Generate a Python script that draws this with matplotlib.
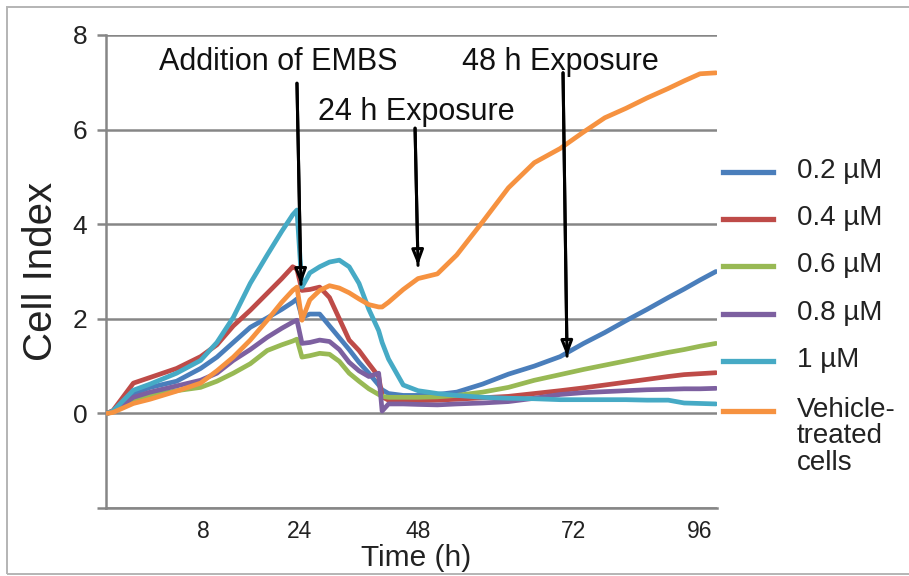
# Cell index curves (xCELLigence) for EMBS doses vs vehicle, 0-96 h
import numpy as np
import matplotlib
matplotlib.use('Agg')
import matplotlib.pyplot as plt
from matplotlib.lines import Line2D
from matplotlib.patches import Rectangle

plt.rcParams['font.family'] = ['Liberation Sans', 'DejaVu Sans']

# time points (h)
time_h = [0, 0.5, 2.2, 3.6, 5.8, 7.8, 10.3, 13, 15.8, 18.6, 21, 22.8, 23.5, 24.4,
          26, 28, 30, 32, 34, 36, 38, 40, 40.7, 42, 45, 48, 51, 54, 58, 62, 66,
          70, 74, 78, 82, 86, 90, 93, 96, 99]

ci_02 = [0, 0.05, 0.42, 0.55, 0.68, 0.95, 1.19, 1.5, 1.82, 2.02, 2.2, 2.35, 2.42, 2.03,
         2.1, 2.1, 1.85, 1.6, 1.35, 1.08, 0.85, 0.6, 0.5, 0.42, 0.38, 0.38, 0.4,
         0.45, 0.62, 0.83, 1.0, 1.2, 1.48, 1.71, 1.96, 2.2, 2.45, 2.63, 2.82, 3.0]
ci_04 = [0, 0.06, 0.64, 0.76, 0.95, 1.2, 1.45, 1.85, 2.18, 2.54, 2.85, 3.1, 3.05, 2.6,
         2.62, 2.67, 2.45, 2.0, 1.55, 1.33, 1.05, 0.78, 0.35, 0.28, 0.27, 0.27, 0.28,
         0.3, 0.33, 0.36, 0.42, 0.48, 0.54, 0.6, 0.66, 0.72, 0.78, 0.82, 0.84, 0.86]
ci_06 = [0, 0.03, 0.28, 0.38, 0.48, 0.55, 0.68, 0.85, 1.05, 1.33, 1.45, 1.53, 1.57, 1.19,
         1.22, 1.27, 1.25, 1.1, 0.85, 0.68, 0.52, 0.4, 0.36, 0.34, 0.34, 0.34, 0.35,
         0.38, 0.45, 0.55, 0.7, 0.82, 0.93, 1.02, 1.11, 1.2, 1.29, 1.35, 1.42, 1.48]
ci_08 = [0, 0.04, 0.34, 0.45, 0.58, 0.7, 0.85, 1.12, 1.35, 1.61, 1.8, 1.93, 1.97, 1.48,
         1.5, 1.55, 1.52, 1.35, 1.08, 0.9, 0.78, 0.85, 0.05, 0.2, 0.2, 0.19, 0.18,
         0.2, 0.22, 0.25, 0.32, 0.4, 0.44, 0.46, 0.48, 0.5, 0.51, 0.52, 0.52, 0.53]
ci_10 = [0, 0.05, 0.49, 0.62, 0.85, 1.12, 1.5, 2.03, 2.75, 3.35, 3.85, 4.2, 4.3, 2.67,
         2.97, 3.1, 3.2, 3.24, 3.1, 2.75, 2.2, 1.75, 1.5, 1.15, 0.6, 0.48, 0.42,
         0.38, 0.34, 0.32, 0.31, 0.29, 0.29, 0.29, 0.29, 0.28, 0.28, 0.22, 0.21, 0.2]
ci_veh = [0, 0.02, 0.21, 0.3, 0.47, 0.64, 0.9, 1.19, 1.55, 1.97, 2.35, 2.6, 2.67, 1.97,
          2.4, 2.6, 2.7, 2.65, 2.55, 2.42, 2.3, 2.25, 2.25, 2.35, 2.62, 2.85, 2.95,
          3.35, 4.05, 4.77, 5.3, 5.6, 5.95, 6.25, 6.45, 6.67, 6.87, 7.03, 7.18, 7.2]

labels = ['0.2 µM', '0.4 µM', '0.6 µM', '0.8 µM', '1 µM', 'Vehicle-\ntreated\ncells']
colors = ['#4A7EBB', '#BE4B48', '#98B954', '#7D60A0', '#46AAC5', '#F69240']
series = [ci_02, ci_04, ci_06, ci_08, ci_10, ci_veh]

x_ticks = [8, 24, 48, 72, 96]
y_ticks = [-2, 0, 2, 4, 6, 8]

# the instrument's time axis is not evenly spaced: piecewise-linear scale
anchor_h = [-100, 0, 8, 24, 48, 72, 96, 200]
anchor_p = [-1200, 0, 96, 193, 311, 466, 593, 593 + 104 * 127 / 24]


def fwd(h):
    return np.interp(h, anchor_h, anchor_p)


def inv(p):
    return np.interp(p, anchor_p, anchor_h)


W, H = 909, 576
fig = plt.figure(figsize=(W / 100, H / 100), dpi=100)
ax = fig.add_axes([106 / W, 1 - 508 / H, 611 / W, 473 / H])

grid_c = '#868686'
ax.set_xscale('function', functions=(fwd, inv))
ax.set_xlim(-0.08, 99.2)
ax.set_ylim(-2, 8)

for s, c in zip(series, colors):
    ax.plot(time_h, s, color=c, lw=3.4, solid_capstyle='round',
            solid_joinstyle='round', zorder=3)

ax.set_yticks(y_ticks)
ax.set_yticklabels(['' if v < 0 else str(v) for v in y_ticks])
ax.yaxis.grid(True, color=grid_c, lw=1.8)
ax.set_axisbelow(True)
ax.set_xticks(x_ticks)
ax.set_xticklabels([str(v) for v in x_ticks])
ax.xaxis.set_minor_locator(plt.NullLocator())

for side in ['top', 'right']:
    ax.spines[side].set_visible(False)
for side in ['left', 'bottom']:
    ax.spines[side].set_color(grid_c)
    ax.spines[side].set_linewidth(1.8)

ax.tick_params(axis='y', direction='out', length=6.5, width=1.8, color=grid_c,
               labelsize=19, pad=7, labelcolor='#222222')
ax.tick_params(axis='x', length=0, labelsize=16.5, pad=9, labelcolor='#222222')

ax.set_xlabel('Time (h)', fontsize=21.5, color='#222222')
ax.xaxis.set_label_coords(0.507, -0.077)
ax.set_ylabel('Cell Index', fontsize=29, color='#222222')
ax.yaxis.set_label_coords(-0.075, 0.5)

# treatment annotations
txt_kw = dict(fontsize=22, color='#111111', ha='center', va='center', zorder=5)
ax.text(20.46, 7.43, 'Addition of EMBS', **txt_kw)
ax.text(70.0, 7.43, '48 h Exposure', **txt_kw)
ax.text(47.7, 6.37, '24 h Exposure', **txt_kw)

arrows = [((23.5, 6.98), (24.2, 2.73)),
          ((47.4, 6.03), (48.0, 3.13)),
          ((70.45, 7.2), (71.07, 1.21))]
for start, tip in arrows:
    ax.annotate('', xy=tip, xytext=start,
                arrowprops=dict(arrowstyle='-|>,head_length=0.9,head_width=0.35',
                                lw=2.2, color='black', fc='white',
                                shrinkA=0, shrinkB=0), zorder=6)
    ax.annotate('', xy=tip, xytext=start,
                arrowprops=dict(arrowstyle='-', lw=2.2, color='black',
                                shrinkA=0, shrinkB=0), zorder=7)

# legend drawn by hand so the handle sits on the first text line
leg_y = [172, 219, 266, 314, 361, 411]
for lab, c, y in zip(labels, colors, leg_y):
    fy = 1 - y / H
    fig.add_artist(Line2D([723 / W, 773 / W], [fy, fy], color=c, lw=3.8,
                          transform=fig.transFigure))
    fig.text(797 / W, 1 - (y - 14) / H, lab, fontsize=20, color='#222222',
             ha='left', va='top', linespacing=1.02)

# outer frame
fig.add_artist(Rectangle((7 / W, 2 / H), 1.0, 1 - 9 / H, transform=fig.transFigure,
                         fill=False, ec='#b4b4b4', lw=1.4))

fig.savefig('out.png', dpi=100)
